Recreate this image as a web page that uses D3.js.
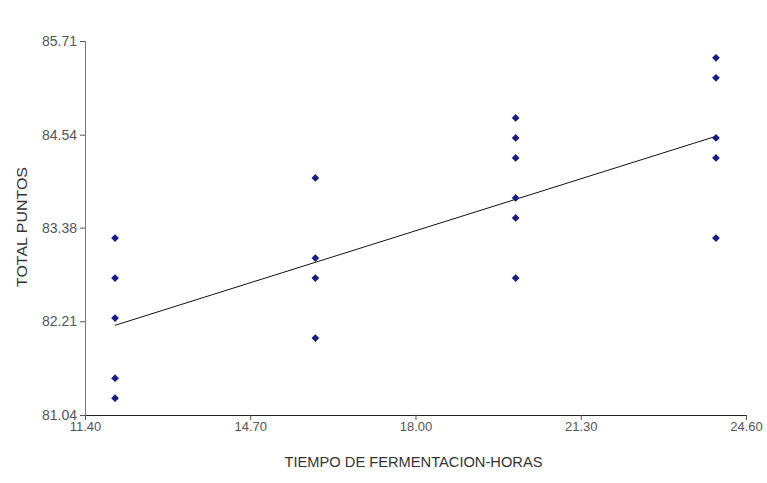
<!DOCTYPE html>
<meta charset="utf-8">
<script src="https://d3js.org/d3.v7.js"></script>
<style>
  body { margin: 0; background: #fff; }
  text { font-family: "Liberation Sans", Arial, sans-serif; }
</style>
<div id="my_dataviz"></div>
<script>

// data
const horas  = [12, 12, 12, 12, 12, 16, 16, 16, 16, 20, 20, 20, 20, 20, 20, 24, 24, 24, 24, 24];
const puntos = [83.25, 82.75, 82.25, 81.5, 81.25,
                84.0, 83.0, 82.75, 82.0,
                84.75, 84.5, 84.25, 83.75, 83.5, 82.75,
                85.5, 85.25, 84.5, 84.25, 83.25];
const xTicks = [11.40, 14.70, 18.00, 21.30, 24.60];
const yTicks = [81.04, 82.21, 83.38, 84.54, 85.71];
// fitted line ends
const fitX = [12, 24];
const fitY = [82.16, 84.52];

const data = horas.map((h, i) => ({x: h, y: puntos[i]}));

const W = 767, H = 483;
const margin = {top: 41, right: 21, bottom: 68, left: 85},
  width = W - margin.left - margin.right,
  height = H - margin.top - margin.bottom;

const svg = d3.select("#my_dataviz")
  .append("svg")
    .attr("width", W)
    .attr("height", H)
  .append("g")
    .attr("transform", `translate(${margin.left}, ${margin.top})`);

const x = d3.scaleLinear().domain([11.40, 24.60]).range([0, width]);
const y = d3.scaleLinear().domain([81.04, 85.71]).range([height, 0]);

// x axis
const xAxis = svg.append("g")
  .attr("transform", `translate(0, ${height})`)
  .call(d3.axisBottom(x).tickValues(xTicks).tickFormat(d3.format(".2f")).tickSizeOuter(0).tickSize(5));
xAxis.select(".domain").attr("stroke", "#222");
xAxis.selectAll(".tick line").attr("stroke", "#555");
xAxis.selectAll(".tick text")
  .attr("fill", "#555")
  .style("font-size", "13px")
  .attr("y", 6)
  .attr("dy", "0.8em");

// y axis
const yAxis = svg.append("g")
  .call(d3.axisLeft(y).tickValues(yTicks).tickFormat(d3.format(".2f")).tickSizeOuter(0).tickSize(5));
yAxis.select(".domain").attr("stroke", "#777");
yAxis.selectAll(".tick line").attr("stroke", "#555");
yAxis.selectAll(".tick text")
  .attr("fill", "#555")
  .style("font-size", "14px")
  .attr("x", -8);

// titles
svg.append("text")
  .attr("x", width / 2 - 2)
  .attr("y", height + 52)
  .attr("text-anchor", "middle")
  .attr("font-size", 15)
  .attr("textLength", 258)
  .attr("lengthAdjust", "spacingAndGlyphs")
  .attr("fill", "#333")
  .text("TIEMPO DE FERMENTACION-HORAS");

svg.append("text")
  .attr("transform", `translate(${-58}, ${height / 2 - 1}) rotate(-90)`)
  .attr("text-anchor", "middle")
  .attr("font-size", 15)
  .attr("textLength", 120)
  .attr("lengthAdjust", "spacingAndGlyphs")
  .attr("fill", "#333")
  .text("TOTAL PUNTOS");

// fitted line
svg.append("line")
  .attr("x1", x(fitX[0])).attr("y1", y(fitY[0]))
  .attr("x2", x(fitX[1])).attr("y2", y(fitY[1]))
  .attr("stroke", "#111")
  .attr("stroke-width", 1);

// points
svg.selectAll(".pt")
  .data(data)
  .join("path")
    .attr("class", "pt")
    .attr("d", d3.symbol().type(d3.symbolSquare).size(30))
    .attr("transform", d => `translate(${x(d.x)}, ${y(d.y)}) rotate(45)`)
    .style("fill", "#1a1a8a");

</script>
